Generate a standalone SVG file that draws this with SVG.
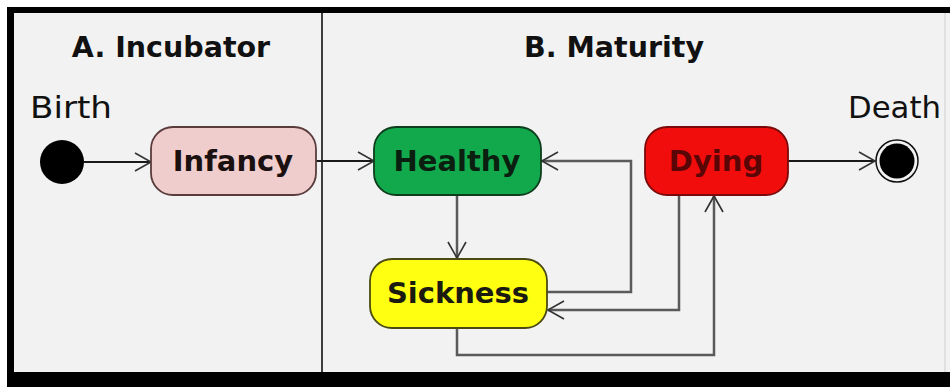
<svg xmlns="http://www.w3.org/2000/svg" width="950" height="387" viewBox="0 0 950 387">
<style>
.title{font-family:"Comic Sans MS","DejaVu Sans",sans-serif;font-weight:bold;font-size:28.5px;fill:#111;text-anchor:middle}
.lbl{font-family:"Comic Sans MS","DejaVu Sans",sans-serif;font-size:30px;fill:#111}
.node text{font-family:"Comic Sans MS","DejaVu Sans",sans-serif;font-weight:bold;font-size:29px;text-anchor:middle}
.node rect{stroke-width:1.8}
.conn{fill:none;stroke-width:2;stroke-linejoin:miter}
.dark{stroke:#1a1a1a}
.gray{stroke:#5a5a5a;stroke-width:2.5}
</style>
<defs>
<marker id="arr" markerWidth="20" markerHeight="20" refX="17" refY="10" orient="auto" markerUnits="userSpaceOnUse">
<path d="M1,1 L17,10 L1,19" fill="none" stroke="#333" stroke-width="1.6"/>
</marker>
</defs>
<rect x="0" y="0" width="950" height="387" fill="#ffffff"/>
<rect x="7" y="7" width="943" height="380" fill="#000"/>
<rect x="14" y="13" width="936" height="359" fill="#f2f2f2"/>
<line x1="945" y1="13" x2="945" y2="372" stroke="#cfcfcf" stroke-width="1"/>
<line x1="322" y1="13" x2="322" y2="372" stroke="#111" stroke-width="1.6"/>
<text class="title" x="171" y="57">A. Incubator</text>
<text class="title" x="614" y="57">B. Maturity</text>
<text class="lbl" x="30" y="118" textLength="82" lengthAdjust="spacingAndGlyphs">Birth</text>
<text class="lbl" x="848" y="118" textLength="93" lengthAdjust="spacingAndGlyphs">Death</text>
<g id="connectors">
<line class="conn dark" x1="84" y1="162" x2="151" y2="162" marker-end="url(#arr)"/>
<line class="conn dark" x1="316" y1="161" x2="374" y2="161" marker-end="url(#arr)"/>
<line class="conn dark" x1="788" y1="161" x2="875" y2="161" marker-end="url(#arr)"/>
<line class="conn gray" x1="457" y1="195" x2="457" y2="258" marker-end="url(#arr)"/>
<polyline class="conn gray" points="547,292 631,292 631,161 542,161" marker-end="url(#arr)"/>
<polyline class="conn gray" points="679,195 679,310 548,310" marker-end="url(#arr)"/>
<polyline class="conn gray" points="457,328 457,355 714,355 714,196" marker-end="url(#arr)"/>
</g>
<g id="birth">
<circle cx="62" cy="162" r="22" fill="#000"/>
</g>
<g id="infancy" class="node">
<rect x="151" y="127" width="165" height="68" rx="22" fill="#efcdcc" stroke="#5a3c3c"/>
<text x="233" y="171" fill="#1a1010">Infancy</text>
</g>
<g id="healthy" class="node">
<rect x="374" y="127" width="167" height="68" rx="22" fill="#12a84c" stroke="#0d3d1c"/>
<text x="457" y="171" fill="#0b1f10">Healthy</text>
</g>
<g id="dying" class="node">
<rect x="645" y="127" width="143" height="68" rx="22" fill="#f20d0d" stroke="#7a0a0a"/>
<text x="716" y="171" fill="#5a0606">Dying</text>
</g>
<g id="sickness" class="node">
<rect x="370" y="259" width="177" height="69" rx="22" fill="#ffff12" stroke="#4a4a12"/>
<text x="458" y="303" fill="#1a1a10">Sickness</text>
</g>
<g id="death">
<circle cx="897" cy="161" r="21" fill="none" stroke="#111" stroke-width="1.5"/>
<circle cx="897" cy="161" r="17.5" fill="#000"/>
</g>
</svg>
